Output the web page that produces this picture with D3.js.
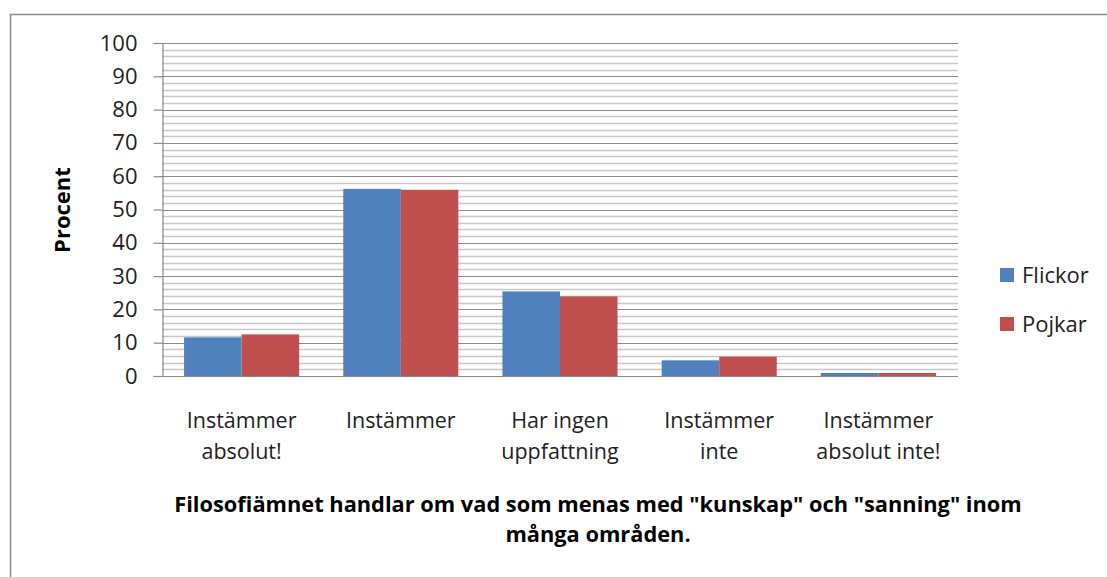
<!DOCTYPE html>
<html>
<head>
<meta charset="utf-8">
<script src="https://cdn.jsdelivr.net/npm/d3@7"></script>
<style>
  body { margin: 0; background: #fff; }
  svg { display: block; font-family: "Open Sans", "Noto Sans", sans-serif; }
</style>
</head>
<body>
<div id="chart"></div>
<script>
// Data
const categories = [
    ['Instämmer', 'absolut!'],
    ['Instämmer'],
    ['Har ingen', 'uppfattning'],
    ['Instämmer', 'inte'],
    ['Instämmer', 'absolut inte!']
];
const seriesNames = ['Flickor', 'Pojkar'];
const flickor = [11.6, 56.2, 25.4, 4.7, 0.9];
const pojkar = [12.5, 55.9, 23.9, 5.8, 0.9];
const yTicks = [0, 10, 20, 30, 40, 50, 60, 70, 80, 90, 100];
const titleLines = ['Filosofiämnet handlar om vad som menas med "kunskap" och "sanning" inom', 'många områden.'];
const yTitle = 'Procent';

const width = 1107, height = 577;
const colors = ['#4f81bd', '#c0504d'];

const svg = d3.select('#chart').append('svg')
    .attr('width', width)
    .attr('height', height);

// Outer frame (only top and left edges visible)
svg.append('path')
    .attr('d', `M10.5,${height} V14.5 H${width}`)
    .attr('fill', 'none')
    .attr('stroke', '#8c8c8c')
    .attr('stroke-width', 1.5);

const plot = { left: 162, right: 958, top: 43, bottom: 376 };

const x = d3.scaleBand()
    .domain(d3.range(categories.length))
    .range([plot.left, plot.right])
    .paddingInner(0.277)
    .paddingOuter(0.1385);

const xSub = d3.scaleBand()
    .domain(seriesNames)
    .range([0, x.bandwidth()]);

const y = d3.scaleLinear()
    .domain([0, 100])
    .range([plot.bottom, plot.top]);

// Minor gridlines every 2
svg.append('g')
    .selectAll('line')
    .data(d3.range(2, 100, 2).filter(v => v % 10 !== 0))
    .enter().append('line')
    .attr('x1', plot.left).attr('x2', plot.right)
    .attr('y1', d => Math.round(y(d)) + 0.5)
    .attr('y2', d => Math.round(y(d)) + 0.5)
    .attr('stroke', '#c8c8c8')
    .attr('stroke-width', 1.5);

// Major gridlines every 10
svg.append('g')
    .selectAll('line')
    .data(yTicks.slice(1))
    .enter().append('line')
    .attr('x1', plot.left).attr('x2', plot.right)
    .attr('y1', d => Math.round(y(d)) + 0.5)
    .attr('y2', d => Math.round(y(d)) + 0.5)
    .attr('stroke', '#8a8a8a')
    .attr('stroke-width', 1.2);

// Bars
const data = categories.map((c, i) => [flickor[i], pojkar[i]]);
const groups = svg.append('g')
    .selectAll('g')
    .data(data)
    .enter().append('g')
    .attr('transform', (d, i) => `translate(${x(i)},0)`);

groups.selectAll('rect')
    .data(d => d.map((v, j) => ({ name: seriesNames[j], value: v, color: colors[j] })))
    .enter().append('rect')
    .attr('x', d => xSub(d.name))
    .attr('width', xSub.bandwidth())
    .attr('y', d => y(d.value))
    .attr('height', d => y(0) - y(d.value))
    .attr('fill', d => d.color);

// Y axis
svg.append('g')
    .attr('transform', `translate(${plot.left + 0.5},0)`)
    .call(d3.axisLeft(y).tickValues(yTicks).tickSize(9).tickPadding(16))
    .call(g => g.select('.domain').attr('stroke', '#8a8a8a').attr('stroke-width', 1.2))
    .call(g => g.selectAll('.tick line').attr('stroke', '#8a8a8a').attr('stroke-width', 1.2))
    .call(g => g.selectAll('.tick text')
        .attr('fill', '#222')
        .attr('font-size', 22)
        .attr('font-family', '"Open Sans", sans-serif'));

// X axis line
svg.append('line')
    .attr('x1', plot.left).attr('x2', plot.right)
    .attr('y1', plot.bottom + 0.5).attr('y2', plot.bottom + 0.5)
    .attr('stroke', '#8a8a8a')
    .attr('stroke-width', 1.2);

// Category labels
svg.append('g')
    .selectAll('text')
    .data(categories)
    .enter().append('text')
    .attr('text-anchor', 'middle')
    .attr('font-size', 21.5)
    .attr('fill', '#222')
    .attr('x', (d, i) => x(i) + x.bandwidth() / 2)
    .attr('y', 428)
    .selectAll('tspan')
    .data(d => d)
    .enter().append('tspan')
    .attr('x', function () { return d3.select(this.parentNode).attr('x'); })
    .attr('dy', (d, i) => i === 0 ? 0 : 31)
    .text(d => d);

// Y axis title
svg.append('text')
    .attr('transform', 'translate(70,210) rotate(-90)')
    .attr('text-anchor', 'middle')
    .attr('font-size', 22)
    .attr('font-weight', 'bold')
    .attr('fill', '#000')
    .text(yTitle);

// Chart title (below)
svg.append('text')
    .attr('text-anchor', 'middle')
    .attr('font-size', 21.8)
    .attr('font-weight', 'bold')
    .attr('fill', '#000')
    .selectAll('tspan')
    .data(titleLines)
    .enter().append('tspan')
    .attr('x', 598)
    .attr('y', (d, i) => 512 + i * 30)
    .text(d => d);

// Legend
const legend = svg.append('g')
    .selectAll('g')
    .data(seriesNames)
    .enter().append('g')
    .attr('transform', (d, i) => `translate(1000,${268 + i * 49})`);

legend.append('rect')
    .attr('width', 14)
    .attr('height', 14)
    .attr('fill', (d, i) => colors[i]);

legend.append('text')
    .attr('x', 22)
    .attr('y', 15)
    .attr('font-size', 22)
    .attr('fill', '#222')
    .text(d => d);
</script>
</body>
</html>
